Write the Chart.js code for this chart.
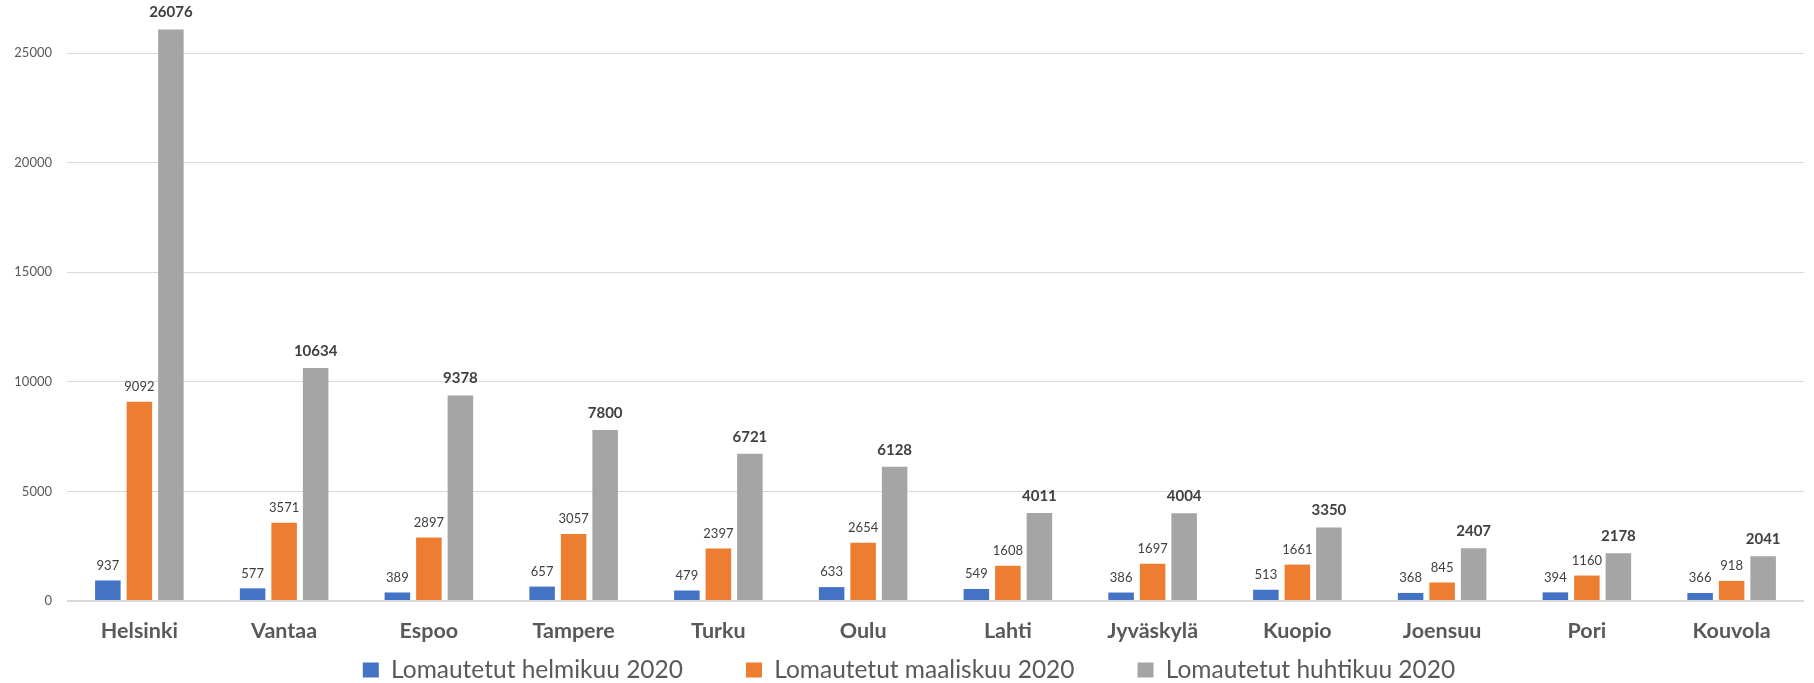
<!DOCTYPE html>
<html>
<head>
<meta charset="utf-8">
<script src="https://cdn.jsdelivr.net/npm/chart.js@4"></script>
<style>
  html, body { margin: 0; padding: 0; background: #fff; }
  #wrap { width: 1814px; height: 683px; position: relative; }
</style>
</head>
<body>
<div id="wrap"><canvas id="lomaChart"></canvas></div>
<script>
// Lomautetut kaupungeittain
const cities = ["Helsinki", "Vantaa", "Espoo", "Tampere", "Turku", "Oulu", "Lahti", "Jyväskylä", "Kuopio", "Joensuu", "Pori", "Kouvola"];
const seriesNames = ["Lomautetut helmikuu 2020", "Lomautetut maaliskuu 2020", "Lomautetut huhtikuu 2020"];
const helmikuu = [937, 577, 389, 657, 479, 633, 549, 386, 513, 368, 394, 366];
const maaliskuu = [9092, 3571, 2897, 3057, 2397, 2654, 1608, 1697, 1661, 845, 1160, 918];
const huhtikuu = [26076, 10634, 9378, 7800, 6721, 6128, 4011, 4004, 3350, 2407, 2178, 2041];
const yTicks = [0, 5000, 10000, 15000, 20000, 25000];

const colors = ["#4472C4", "#ED7D31", "#A5A5A5"];
const FONT = "Lato, 'Open Sans', sans-serif";

// value labels above the bars (no datalabels plugin available)
const valueLabels = {
  id: "valueLabels",
  afterDatasetsDraw(chart) {
    const ctx = chart.ctx;
    ctx.save();
    ctx.textAlign = "center";
    ctx.textBaseline = "middle";
    chart.data.datasets.forEach((ds, i) => {
      const meta = chart.getDatasetMeta(i);
      const bold = i === 2;
      ctx.font = (bold ? "bold 15px " : "13px ") + FONT;
      ctx.fillStyle = "#404040";
      meta.data.forEach((bar, j) => {
        ctx.fillText(String(ds.data[j]), bar.x, bar.y - (bold ? 17 : 15));
      });
    });
    ctx.restore();
  }
};

const ctx = document.getElementById("lomaChart").getContext("2d");
new Chart(ctx, {
  type: "bar",
  data: {
    labels: cities,
    datasets: [
      { label: seriesNames[0], data: helmikuu, backgroundColor: colors[0] },
      { label: seriesNames[1], data: maaliskuu, backgroundColor: colors[1] },
      { label: seriesNames[2], data: huhtikuu, backgroundColor: colors[2] }
    ]
  },
  options: {
    responsive: true,
    maintainAspectRatio: false,
    animation: false,
    layout: { padding: { left: 14, right: 10, top: 0, bottom: -9.3 } },
    datasets: {
      bar: { categoryPercentage: 0.653, barPercentage: 0.81, borderWidth: 0 }
    },
    scales: {
      x: {
        afterFit(axis) {
          axis.height = 42.8;
        },
        grid: { display: false, drawTicks: false },
        border: { display: false },
        ticks: {
          padding: 17,
          color: "#595959",
          font: { family: FONT, size: 21.5, weight: "bold" }
        }
      },
      y: {
        min: 0,
        max: 27420,
        afterBuildTicks(axis) {
          axis.ticks = yTicks.map(v => ({ value: v }));
        },
        afterFit(axis) {
          axis.width = 53;
          axis.paddingTop = 0;
          axis.paddingBottom = 0;
        },
        grid: {
          drawTicks: false,
          color: "#D9D9D9",
          lineWidth: c => (c.tick && c.tick.value === 0 ? 2 : 1)
        },
        border: { display: false },
        ticks: {
          padding: 15,
          color: "#595959",
          font: { family: FONT, size: 13 },
          callback: v => String(v)
        }
      }
    },
    plugins: {
      tooltip: { enabled: false },
      legend: {
        position: "bottom",
        labels: {
          boxWidth: 16,
          boxHeight: 15,
          padding: 14,
          color: "#595959",
          font: { family: FONT, size: 24.5 },
          generateLabels(chart) {
            const items = Chart.defaults.plugins.legend.labels.generateLabels(chart);
            items.forEach((it, i) => {
              if (i < items.length - 1) it.text += "\u2003\u2003\u2002";
            });
            return items;
          }
        }
      }
    }
  },
  plugins: [valueLabels]
});
</script>
</body>
</html>
